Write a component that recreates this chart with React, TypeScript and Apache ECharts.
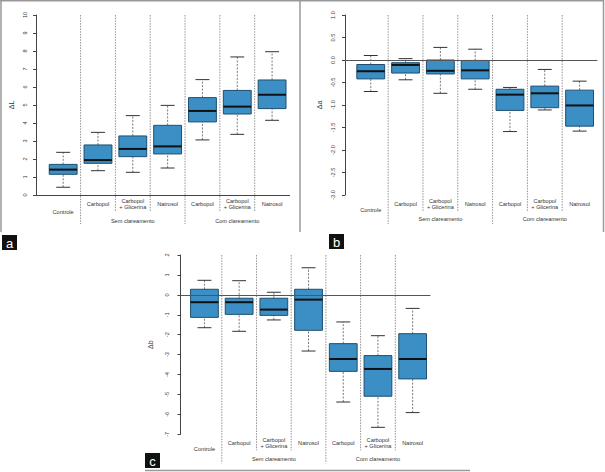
import React, { useEffect, useRef } from "react";
import * as echarts from "echarts";

const CATS = ["Controle", "Carbopol", "Carbopol\n+ Glicerina", "Natrosol", "Carbopol", "Carbopol\n+ Glicerina", "Natrosol"];
const GROUPS = ["Sem clareamento", "Com clareamento"];

// [min, Q1, median, Q3, max]
const dL = [
  [0.43, 1.15, 1.41, 1.70, 2.37],
  [1.35, 1.76, 1.94, 2.78, 3.48],
  [1.26, 2.13, 2.56, 3.28, 4.41],
  [1.50, 2.28, 2.70, 3.87, 4.98],
  [3.06, 4.06, 4.67, 5.41, 6.41],
  [3.37, 4.50, 4.91, 5.81, 7.67],
  [4.15, 4.80, 5.57, 6.39, 7.96],
];
const da = [
  [-0.70, -0.42, -0.25, -0.10, 0.10],
  [-0.44, -0.29, -0.11, -0.06, 0.03],
  [-0.74, -0.31, -0.24, 0.00, 0.28],
  [-0.65, -0.42, -0.23, -0.01, 0.24],
  [-1.59, -1.12, -0.77, -0.65, -0.61],
  [-1.11, -1.06, -0.74, -0.58, -0.21],
  [-1.58, -1.47, -1.01, -0.67, -0.47],
];
const daOutliers = [[5, 0.09], [6, -1.93], [6, -2.25]];
const db = [
  [-1.65, -1.13, -0.37, 0.28, 0.73],
  [-1.83, -0.98, -0.37, -0.17, 0.71],
  [-1.26, -1.03, -0.74, -0.17, 0.13],
  [-2.82, -1.78, -0.24, 0.28, 1.36],
  [-5.38, -3.84, -3.22, -2.45, -1.36],
  [-6.65, -5.09, -3.72, -3.05, -2.05],
  [-5.91, -4.22, -3.22, -1.95, -0.68],
];
const dbOutliers = [[2, -2.27], [3, -3.52]];

// y tick values
const ticksL = [0, 1, 2, 3, 4, 5, 6, 7, 8, 9, 10];
const ticksA = [-3.0, -2.5, -2.0, -1.5, -1.0, -0.5, 0.0, 0.5, 1.0];
const ticksB = [-7, -6, -5, -4, -3, -2, -1, 0, 1, 2];

// separators between categories: [position, isGroupBoundary]
const SEPARATORS = [[1.5, 1], [2.5, 0], [3.5, 0], [4.5, 1], [5.5, 0], [6.5, 0]];

const FONT = "Liberation Sans, Arial, sans-serif";
const TXT = "#333";
const AX = "#444";

const PANELS = [
  { name: "ΔL", data: dL, out: [] as number[][], ticks: ticksL, zero: false, left: 36, top: 15, width: 253.5, height: 180, xMin: 0.22, yMin: 0, yMax: 10, interval: 1, fmt: (v: number) => String(v), lblDist: 11, nameGap: 21, ctrlMargin: 17, grpMargin: 25.5 },
  { name: "Δa", data: da, out: daOutliers, ticks: ticksA, zero: true, left: 345, top: 15, width: 252, height: 180, xMin: 0.26, yMin: -3, yMax: 1, interval: 0.5, fmt: (v: number) => v.toFixed(1), lblDist: 12, nameGap: 22, ctrlMargin: 15, grpMargin: 24 },
  { name: "Δb", data: db, out: dbOutliers, ticks: ticksB, zero: true, left: 180.5, top: 255, width: 249.5, height: 179.3, xMin: 0.31, yMin: -7, yMax: 2, interval: 1, fmt: (v: number) => String(v), lblDist: 14, nameGap: 27, ctrlMargin: 15, grpMargin: 24.5 },
];

function boxRender(params: any, api: any) {
  const x = api.value(0);
  const lo = api.value(1), q1 = api.value(2), md = api.value(3), q3 = api.value(4), hi = api.value(5);
  const hw = api.size([0.8, 0])[0] / 2;
  const cw = hw / 2;
  const pLo = api.coord([x, lo]);
  const pQ1 = api.coord([x, q1]);
  const pMd = api.coord([x, md]);
  const pQ3 = api.coord([x, q3]);
  const pHi = api.coord([x, hi]);
  const cx = pMd[0];
  const dash = { stroke: "#555", lineWidth: 0.8, lineDash: [2, 1.5] };
  const cap = { stroke: "#333", lineWidth: 1 };
  return {
    type: "group",
    children: [
      { type: "line", shape: { x1: cx, y1: pQ3[1], x2: cx, y2: pHi[1] }, style: dash },
      { type: "line", shape: { x1: cx, y1: pLo[1], x2: cx, y2: pQ1[1] }, style: dash },
      { type: "line", shape: { x1: cx - cw, y1: pHi[1], x2: cx + cw, y2: pHi[1] }, style: cap },
      { type: "line", shape: { x1: cx - cw, y1: pLo[1], x2: cx + cw, y2: pLo[1] }, style: cap },
      { type: "rect", shape: { x: cx - hw, y: pQ3[1], width: 2 * hw, height: pQ1[1] - pQ3[1] }, style: { fill: "#3b8fc5", stroke: "#1e4f70", lineWidth: 1 } },
      { type: "line", shape: { x1: cx - hw, y1: pMd[1], x2: cx + hw, y2: pMd[1] }, style: { stroke: "#111", lineWidth: 2 } },
    ],
  };
}

function makeSepRender(yMin: number, yMax: number) {
  return (params: any, api: any) => {
    const x = api.value(0);
    const isLong = api.value(1) === 1;
    const pTop = api.coord([x, yMax]);
    const pBot = api.coord([x, yMin]);
    return {
      type: "line",
      shape: { x1: pTop[0], y1: pTop[1], x2: pTop[0], y2: pBot[1] + (isLong ? 29 : 16) },
      style: { stroke: "#777", lineWidth: 0.8, lineDash: [1.5, 1.2] },
    };
  };
}

function makeTickLabelRender(xMin: number, dist: number, fmt: (v: number) => string) {
  return (params: any, api: any) => {
    const v = api.value(1);
    const p = api.coord([xMin, v]);
    return {
      type: "text",
      x: p[0] - dist,
      y: p[1],
      rotation: Math.PI / 2,
      style: { text: fmt(v), align: "center", verticalAlign: "middle", fontSize: 5.6, fontFamily: FONT, fill: TXT },
    };
  };
}

export default function App() {
  const ref = useRef<HTMLDivElement>(null);
  useEffect(() => {
    if (!ref.current) return;
    const chart = echarts.init(ref.current, null, { renderer: "svg" });
    const grid: any[] = [];
    const xAxis: any[] = [];
    const yAxis: any[] = [];
    const series: any[] = [];
    PANELS.forEach((p, k) => {
      grid.push({ left: p.left, top: p.top, width: p.width, height: p.height });
      const base = {
        type: "value", gridIndex: k, min: p.xMin, max: 7.5, position: "bottom", offset: 0,
        axisTick: { show: false }, splitLine: { show: false },
      };
      const lbl = { fontSize: 5.6, lineHeight: 6, color: TXT, fontFamily: FONT, verticalAlign: "middle" };
      const mainIdx = xAxis.length;
      xAxis.push({
        ...base,
        axisLine: { show: true, lineStyle: { color: AX, width: 1 } },
        axisLabel: { ...lbl, margin: 8.5, customValues: [2, 3, 4, 5, 6, 7], formatter: (v: number) => CATS[Math.round(v) - 1] },
      });
      xAxis.push({
        ...base,
        axisLine: { show: false },
        axisLabel: { ...lbl, margin: p.ctrlMargin, customValues: [1], formatter: (v: number) => CATS[Math.round(v) - 1] },
      });
      xAxis.push({
        ...base,
        axisLine: { show: false },
        axisLabel: { ...lbl, margin: p.grpMargin, customValues: [3, 6], formatter: (v: number) => (Math.round(v) === 3 ? GROUPS[0] : GROUPS[1]) },
      });
      const yIdx = yAxis.length;
      yAxis.push({
        type: "value", gridIndex: k, min: p.yMin, max: p.yMax, interval: p.interval, position: "left",
        axisLine: { show: true, lineStyle: { color: AX, width: 1 } },
        axisTick: { show: true, length: 3, lineStyle: { color: AX } },
        splitLine: { show: false },
        axisLabel: { show: false },
        name: p.name, nameLocation: "middle", nameGap: p.nameGap, nameRotate: 90,
        nameTextStyle: { fontSize: 7, color: TXT, fontFamily: FONT },
      });
      series.push({
        type: "custom", xAxisIndex: mainIdx, yAxisIndex: yIdx, clip: false, z: 1,
        renderItem: makeSepRender(p.yMin, p.yMax),
        data: SEPARATORS,
        encode: { x: 0 },
      });
      series.push({
        type: "custom", xAxisIndex: mainIdx, yAxisIndex: yIdx, clip: false, z: 2, silent: true,
        renderItem: makeTickLabelRender(p.xMin, p.lblDist, p.fmt),
        data: p.ticks.map((t) => [p.xMin, t]),
        encode: { x: 0, y: 1 },
      });
      series.push({
        type: "custom", xAxisIndex: mainIdx, yAxisIndex: yIdx, z: 3,
        renderItem: boxRender,
        data: p.data.map((d, i) => [i + 1, ...d]),
        encode: { x: 0, y: [1, 2, 3, 4, 5] },
      });
      series.push({
        type: "scatter", xAxisIndex: mainIdx, yAxisIndex: yIdx, z: 4,
        symbol: "emptyCircle", symbolSize: 4,
        itemStyle: { color: "#fff", borderColor: "#666", borderWidth: 0.8 },
        data: p.out,
        markLine: p.zero ? {
          silent: true, symbol: "none", label: { show: false },
          lineStyle: { color: "#555", width: 1, type: "solid" },
          data: [{ yAxis: 0 }],
        } : undefined,
      });
    });

    const frame = { stroke: "#999", lineWidth: 1.5 };
    const letter = (x: number, y: number, t: string) => ({
      type: "group", children: [
        { type: "rect", shape: { x, y, width: 15, height: 15 }, style: { fill: "#111" } },
        { type: "text", x: x + 7.5, y: y + 8, style: { text: t, fill: "#fff", fontSize: 13, fontFamily: FONT, align: "center", verticalAlign: "middle" } },
      ],
    });
    chart.setOption({
      animation: false,
      backgroundColor: "#fff",
      textStyle: { fontFamily: FONT },
      grid, xAxis, yAxis, series,
      graphic: [
        { type: "line", shape: { x1: 1, y1: 0, x2: 1, y2: 232 }, style: frame },
        { type: "line", shape: { x1: 0, y1: 0.75, x2: 604, y2: 0.75 }, style: frame },
        { type: "line", shape: { x1: 300, y1: 0, x2: 300, y2: 232 }, style: frame },
        { type: "line", shape: { x1: 603.5, y1: 0, x2: 603.5, y2: 232 }, style: frame },
        { type: "line", shape: { x1: 145, y1: 470.5, x2: 470, y2: 470.5 }, style: frame },
        letter(2, 235, "a"),
        letter(329, 234, "b"),
        letter(145, 453, "c"),
      ],
    });
    return () => chart.dispose();
  }, []);
  return <div ref={ref} style={{ position: "absolute", left: 0, top: 0, width: 605, height: 472 }} />;
}
